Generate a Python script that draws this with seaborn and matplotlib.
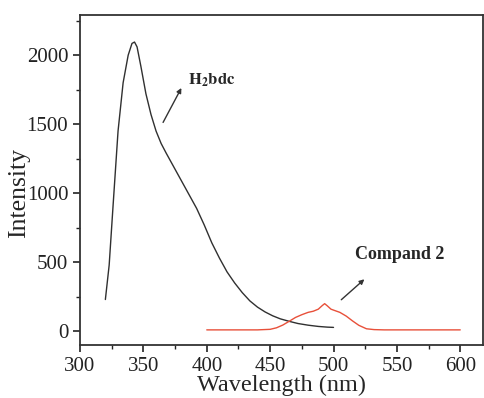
import numpy as np
import pandas as pd
import seaborn as sns
import matplotlib.pyplot as plt
from matplotlib.ticker import MultipleLocator

# H2bdc emission
h2bdc_wl = [320, 323, 326, 330, 334, 338, 341, 343, 345, 348, 352, 356, 360, 364, 368,
            374, 380, 386, 392, 398, 404, 410, 416, 422, 428, 434, 440, 446, 452, 458,
            465, 472, 480, 488, 495, 500]
h2bdc_int = [230, 480, 900, 1450, 1800, 2000, 2085, 2095, 2060, 1920, 1720, 1570, 1450, 1360, 1290,
             1190, 1090, 990, 890, 770, 640, 530, 430, 350, 280, 220, 175, 140, 112, 90,
             72, 56, 44, 35, 30, 28]

# Compand 2 emission
comp_wl = [400, 420, 440, 450, 455, 460, 465, 470, 475, 480, 484, 488, 491, 493, 495,
           498, 501, 505, 510, 515, 520, 526, 532, 540, 560, 580, 600]
comp_int = [10, 10, 10, 14, 25, 45, 72, 100, 120, 137, 145, 160, 185, 200, 185,
            160, 150, 137, 110, 75, 43, 18, 12, 10, 10, 10, 10]

df_a = pd.DataFrame({"wl": h2bdc_wl, "val": h2bdc_int})
df_b = pd.DataFrame({"wl": comp_wl, "val": comp_int})

sns.set_style("ticks")
plt.rcParams["font.family"] = ["Liberation Serif", "DejaVu Serif"]
plt.rcParams["mathtext.fontset"] = "stix"

fig = plt.figure(figsize=(4.85, 3.98), dpi=100)
ax = fig.add_axes([0.165, 0.133, 0.831, 0.829])

sns.lineplot(data=df_a, x="wl", y="val", ax=ax, color="#303030", lw=1.0)
sns.lineplot(data=df_b, x="wl", y="val", ax=ax, color="#e8503a", lw=1.0)

ax.set_xlim(300, 618)
ax.set_ylim(-100, 2290)
ax.xaxis.set_major_locator(MultipleLocator(50))
ax.xaxis.set_minor_locator(MultipleLocator(25))
ax.yaxis.set_major_locator(MultipleLocator(500))
ax.yaxis.set_minor_locator(MultipleLocator(250))
ax.tick_params(which="major", direction="out", length=5, width=1.2, labelsize=15, colors="#222")
ax.tick_params(which="minor", direction="out", length=3, width=1.0, colors="#222")
for s in ax.spines.values():
    s.set_linewidth(1.3)
    s.set_color("#333")

ax.set_xlabel("Wavelength (nm)", fontsize=17.5, labelpad=-1)
ax.set_ylabel("Intensity", fontsize=18.5)
ax.yaxis.set_label_coords(-0.125, 0.46)

ax.annotate("", xy=(381, 1780), xytext=(364.5, 1495),
            arrowprops=dict(arrowstyle="-|>", color="#333", lw=1.0, mutation_scale=7))
ax.text(385, 1820, r"$\mathbf{H_2bdc}$", fontsize=12,
        ha="left", va="center")

ax.annotate("", xy=(526, 390), xytext=(504.5, 215),
            arrowprops=dict(arrowstyle="-|>", color="#333", lw=1.0, mutation_scale=7))
ax.text(517, 555, "Compand 2", fontsize=13, fontweight="bold", ha="left", va="center")

fig.savefig("out.png", dpi=100)
